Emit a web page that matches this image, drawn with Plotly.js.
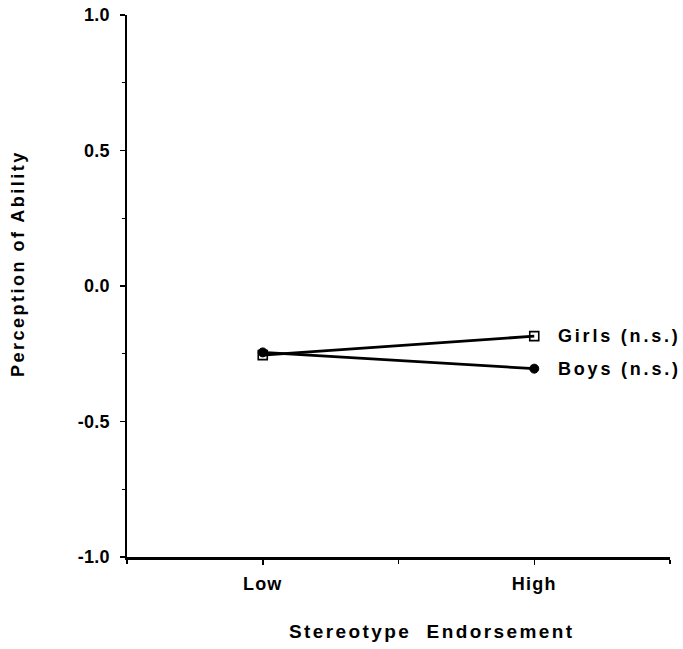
<!DOCTYPE html>
<html>
<head>
<meta charset="utf-8">
<script src="https://cdn.plot.ly/plotly-3.0.1.min.js"></script>
<style>html,body{margin:0;padding:0;background:#fff;}#chart{width:683px;height:649px;}</style>
</head>
<body>
<div id="chart"></div>
<script>
const categories = ["Low", "High"];
const xPositions = [0, 1];
const girls = [-0.255, -0.185];
const boys = [-0.245, -0.305];
const seriesLabels = ["Girls (n.s.)", "Boys (n.s.)"];
const yTickVals = [1.0, 0.5, 0.0, -0.5, -1.0];
const yTickText = ["1.0", "0.5", "0.0", "-0.5", "-1.0"];
const xTitle = "Stereotype  Endorsement";
const yTitle = "Perception of Ability";

const FONT = "Liberation Sans, Arial, sans-serif";
function sp(t, ls) { return '<span style="letter-spacing:' + ls + 'px"><b>' + t + '</b></span>'; }

const traces = [
  {
    x: xPositions, y: boys, mode: "lines+markers", name: "Boys",
    line: {color: "#000", width: 2.8},
    marker: {symbol: "circle", size: 9, color: "#000", line: {color: "#000", width: 1}},
    hoverinfo: "skip"
  },
  {
    x: xPositions, y: girls, mode: "lines+markers", name: "Girls",
    line: {color: "#000", width: 2.8},
    marker: {symbol: "square-open", size: 9, color: "#000", line: {width: 1.6}},
    hoverinfo: "skip"
  }
];

const layout = {
  width: 683, height: 649,
  margin: {l: 127, r: 13, t: 15, b: 92},
  paper_bgcolor: "#fff", plot_bgcolor: "#fff",
  showlegend: false,
  font: {family: FONT, color: "#000"},
  xaxis: {
    range: [-0.5, 1.5],
    tickmode: "array", tickvals: xPositions, ticktext: categories.map(t => sp(t, 1.2)),
    ticks: "outside", ticklen: 5, tickwidth: 1.5, tickcolor: "#000",
    minor: {tickmode: "linear", tick0: 0, dtick: 0.5, ticks: "outside", ticklen: 4, tickwidth: 1.5, tickcolor: "#000"},
    showline: true, linecolor: "#000", linewidth: 2.5,
    showgrid: false, zeroline: false,
    ticklabelstandoff: 4,
    tickfont: {family: FONT, size: 18, color: "#000"}
  },
  yaxis: {
    range: [-1.0, 1.0],
    tickmode: "array", tickvals: yTickVals, ticktext: yTickText.map(t => sp(t, 0.3)),
    ticks: "outside", ticklen: 5, tickwidth: 1.5, tickcolor: "#000",
    minor: {tickmode: "linear", tick0: 0, dtick: 0.25, ticks: "outside", ticklen: 3, tickwidth: 1.2, tickcolor: "#000"},
    showline: true, linecolor: "#000", linewidth: 2.5,
    showgrid: false, zeroline: false,
    ticklabelstandoff: 6,
    tickfont: {family: FONT, size: 18, color: "#000"}
  },
  annotations: [
    {x: 1, y: girls[1], xref: "x", yref: "y", text: sp(seriesLabels[0], 2.8), showarrow: false,
     xanchor: "left", xshift: 22, font: {family: FONT, size: 18, color: "#000"}},
    {x: 1, y: boys[1], xref: "x", yref: "y", text: sp(seriesLabels[1], 2.8), showarrow: false,
     xanchor: "left", xshift: 22, font: {family: FONT, size: 18, color: "#000"}},
    {x: 0.56, y: -0.138, xref: "paper", yref: "paper", text: sp(xTitle, 2.4), showarrow: false,
     xanchor: "center", yanchor: "middle", font: {family: FONT, size: 19, color: "#000"}},
    {x: -0.2007, y: 0.5406, xref: "paper", yref: "paper", text: sp(yTitle, 2.5), showarrow: false,
     textangle: -90, xanchor: "center", yanchor: "middle", font: {family: FONT, size: 18, color: "#000"}}
  ]
};

Plotly.newPlot("chart", traces, layout, {displayModeBar: false, staticPlot: true});
</script>
</body>
</html>
